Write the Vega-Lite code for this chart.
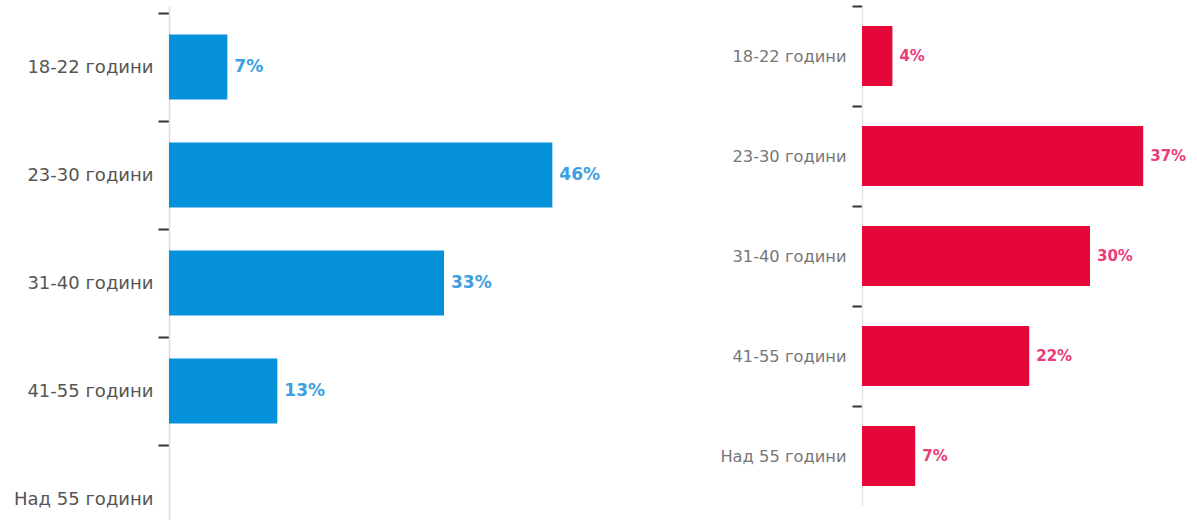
{
  "$schema": "https://vega.github.io/schema/vega-lite/v6.json",
  "padding": {"left": 13, "top": 5, "right": 0, "bottom": 0},
  "background": "white",
  "config": {"view": {"stroke": null}},
  "spacing": 193,
  "bounds": "flush",
  "datasets": {
    "left": [
      {"age": "18-22 години", "pct": 7, "label": "7%"},
      {"age": "23-30 години", "pct": 46, "label": "46%"},
      {"age": "31-40 години", "pct": 33, "label": "33%"},
      {"age": "41-55 години", "pct": 13, "label": "13%"},
      {"age": "Над 55 години", "pct": null, "label": ""}
    ],
    "right": [
      {"age": "18-22 години", "pct": 4, "label": "4%"},
      {"age": "23-30 години", "pct": 37, "label": "37%"},
      {"age": "31-40 години", "pct": 30, "label": "30%"},
      {"age": "41-55 години", "pct": 22, "label": "22%"},
      {"age": "Над 55 години", "pct": 7, "label": "7%"}
    ]
  },
  "hconcat": [
    {
      "width": 500,
      "height": 547,
      "data": {"name": "left"},
      "encoding": {
        "y": {
          "field": "age", "type": "nominal", "sort": null, "title": null,
          "scale": {
            "domain": ["18-22 години", "23-30 години", "31-40 години", "41-55 години", "Над 55 години"],
            "paddingInner": 0.4, "paddingOuter": 0.2324, "align": 0.57
          },
          "axis": {
            "tickOffset": -54, "labelOffset": 54,
            "domainColor": "#dcdcdc", "domainWidth": 1.5,
            "tickColor": "#333", "tickSize": 11, "tickWidth": 2,
            "labelFont": "DejaVu Sans", "labelFontSize": 18, "labelColor": "#555",
            "labelPadding": 5
          }
        },
        "x": {
          "field": "pct", "type": "quantitative",
          "scale": {"domain": [0, 60]}, "axis": null
        }
      },
      "layer": [
        {"mark": {"type": "bar", "color": "#0592da"}},
        {
          "mark": {"type": "text", "align": "left", "dx": 7, "font": "DejaVu Sans", "fontSize": 17, "fontWeight": "bold", "color": "#3d9fe2"},
          "encoding": {"text": {"field": "label"}}
        }
      ]
    },
    {
      "width": 304,
      "height": 500,
      "data": {"name": "right"},
      "encoding": {
        "y": {
          "field": "age", "type": "nominal", "sort": null, "title": null,
          "scale": {
            "domain": ["18-22 години", "23-30 години", "31-40 години", "41-55 години", "Над 55 години"],
            "paddingInner": 0.4, "paddingOuter": 0.2
          },
          "axis": {
            "tickOffset": -50, "labelOffset": 50,
            "domainColor": "#e6e6e6", "domainWidth": 1.5,
            "tickColor": "#333", "tickSize": 10, "tickWidth": 2,
            "labelFont": "DejaVu Sans", "labelFontSize": 16.3, "labelColor": "#777",
            "labelPadding": 6
          }
        },
        "x": {
          "field": "pct", "type": "quantitative",
          "scale": {"domain": [0, 40]}, "axis": null
        }
      },
      "layer": [
        {"mark": {"type": "bar", "color": "#e6073a"}},
        {
          "mark": {"type": "text", "align": "left", "dx": 7, "font": "DejaVu Sans", "fontSize": 15, "fontWeight": "bold", "color": "#ea3b7a"},
          "encoding": {"text": {"field": "label"}}
        }
      ]
    }
  ]
}
